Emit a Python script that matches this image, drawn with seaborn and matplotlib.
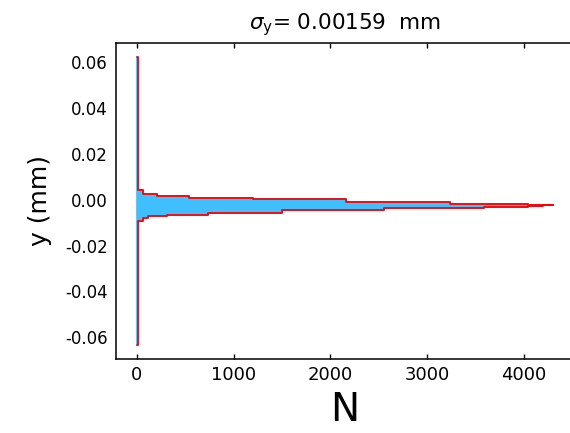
import numpy as np
import pandas as pd
import matplotlib
matplotlib.use("Agg")
import matplotlib.pyplot as plt
import seaborn as sns

# ---- data ----
n_steps = [0, 12, 68, 120, 206, 309, 543, 738, 1196, 1505, 2158, 2553,
           3237, 3584, 4037, 4192, 4295]
upper_mm = [0.0625, 0.0041, 0.0026, 0.0026, 0.0019, 0.0019, 0.0009, 0.0009,
            0.0002, 0.0002, -0.0009, -0.0009, -0.0017, -0.0017, -0.0022,
            -0.0024, -0.0024]
lower_mm = [-0.0634, -0.0092, -0.0081, -0.0072, -0.0072, -0.0065, -0.0065,
            -0.0056, -0.0056, -0.0046, -0.0046, -0.0037, -0.0037, -0.0031,
            -0.0026, -0.0024, -0.0024]
x_ticks = [0, 1000, 2000, 3000, 4000]
x_tick_labels = ["0", "1000", "2000", "3000", "4000"]
y_ticks = [0.06, 0.04, 0.02, 0.0, -0.02, -0.04, -0.06]
y_tick_labels = ["0.06", "0.04", "0.02", "0.00", "-0.02", "-0.04", "-0.06"]
title_text = r"$\sigma_{\mathrm{y}}$= 0.00159  mm"

df = pd.DataFrame({"N": n_steps, "upper": upper_mm, "lower": lower_mm})

sns.set_theme(style="white")
plt.rcParams["font.family"] = ["DejaVu Sans"]
plt.rcParams["mathtext.fontset"] = "dejavusans"

fig = plt.figure(figsize=(5.70, 4.33), dpi=100)
ax = fig.add_axes([116 / 570, (433 - 359) / 433, (573.4 - 116) / 570, (359 - 43) / 433])

blue = "#40BFFF"
red = "#FF0000"

ax.fill_between(df["N"], df["lower"], df["upper"], step="post",
                facecolor=blue, edgecolor=blue, linewidth=1.2, zorder=1)
sns.lineplot(data=df, x="N", y="upper", ax=ax, color=red, linewidth=1.3,
             drawstyle="steps-post", zorder=2)
sns.lineplot(data=df, x="N", y="lower", ax=ax, color=red, linewidth=1.3,
             drawstyle="steps-post", zorder=2)

ax.set_xlim(-214, 4510)
ax.set_ylim(-0.0695, 0.0685)

ax.set_xticks(x_ticks)
ax.set_xticklabels(x_tick_labels)
ax.set_yticks(y_ticks)
ax.set_yticklabels(y_tick_labels)

ax.tick_params(axis="x", which="both", direction="in", length=3.5, width=1,
               color="black", top=True, bottom=True, labelsize=13, pad=5,
               labelcolor="black")
ax.tick_params(axis="y", which="both", length=0, labelsize=12, pad=6,
               labelcolor="black")

for s in ax.spines.values():
    s.set_color("black")
    s.set_linewidth(1.1)
    s.set_visible(True)

ax.set_xlabel("N", fontsize=28, color="black", va="top")
ax.xaxis.set_label_coords(0.5, -0.10)
ax.set_ylabel("y (mm)", fontsize=18, color="black")
ax.yaxis.set_label_coords(-0.14, 0.5)
ax.set_title(title_text, fontsize=15.5, color="black", pad=10)

fig.savefig("out.png", dpi=100, facecolor="white")
